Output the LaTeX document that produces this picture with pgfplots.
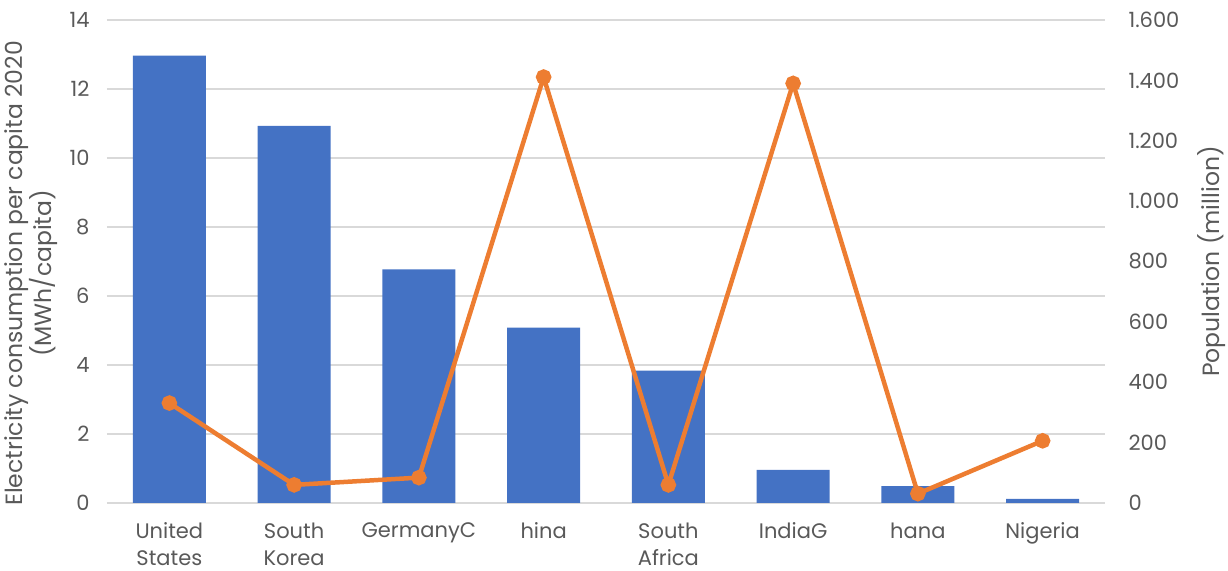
\documentclass[border=0pt]{standalone}
\usepackage{pgfplots}
\pgfplotsset{compat=1.18}
\usepackage{fontspec}
\setmainfont{Poppins}
\definecolor{barblue}{HTML}{4472C4}
\definecolor{lineorange}{HTML}{ED7D31}
\definecolor{txtgray}{HTML}{595959}
\definecolor{gridgray}{HTML}{D9D9D9}
\begin{document}
\begin{tikzpicture}
\pgfplotsset{
  every axis/.append style={
    scale only axis, width=998pt, height=483pt,
    xmin=-0.5, xmax=7.5,
    font=\fontsize{21}{27}\selectfont,
    tick label style={text=txtgray, font=\fontsize{21}{27}\selectfont},
    major tick length=0pt,
    /pgf/number format/assume math mode=true,
  }
}
\begin{axis}[
  ymin=0, ymax=14, ytick={0,2,...,14},
  axis y line*=left, axis x line*=bottom,
  y axis line style={draw=none},
  x axis line style={draw=gridgray, line width=1.5pt},
  ymajorgrids, grid style={draw=gridgray, line width=1.5pt},
  xtick=data,
  xticklabels={{United\\States},{South\\Korea},GermanyC,hina,{South\\Africa},IndiaG,hana,Nigeria},
  xticklabel style={align=center, anchor=north, yshift=-16pt},
  ylabel={Electricity consumption per capita 2020\\(MWh/capita)},
  every axis y label/.style={at={(axis description cs:0,0.5)}, xshift=-76pt, yshift=-12pt, rotate=90, anchor=center, align=center, text=txtgray, font=\fontsize{23.5}{23.5}\selectfont},
  yticklabel style={xshift=-14pt},
]
\addplot[ybar, bar width=73pt, fill=barblue, draw=none] coordinates {
 (0,12.97) (1,10.93) (2,6.77) (3,5.08) (4,3.84) (5,0.96) (6,0.49) (7,0.12)};
\end{axis}
\begin{axis}[
  ymin=0, ymax=1600, ytick={0,200,...,1600},
  axis y line*=right, axis x line=none,
  y axis line style={draw=none},
  /pgf/number format/1000 sep={.},
  scaled y ticks=false,
  ylabel={Population (million)},
  every axis y label/.style={at={(axis description cs:1,0.5)}, xshift=107pt, rotate=90, anchor=center, text=txtgray, font=\fontsize{23.5}{23.5}\selectfont},
  yticklabel style={xshift=20pt},
  xtick=\empty,
]
\addplot[lineorange, line width=4.5pt, mark=*, mark size=5.5pt, mark options={solid, fill=lineorange, draw=none}] coordinates {
 (0,331) (1,60) (2,84) (3,1411) (4,60) (5,1390) (6,31) (7,206)};
\end{axis}
\pgfresetboundingbox
\path ([shift={(-107pt,-68pt)}]current axis.south west) rectangle ([shift={(123pt,20pt)}]current axis.north east);
\end{tikzpicture}
\end{document}
